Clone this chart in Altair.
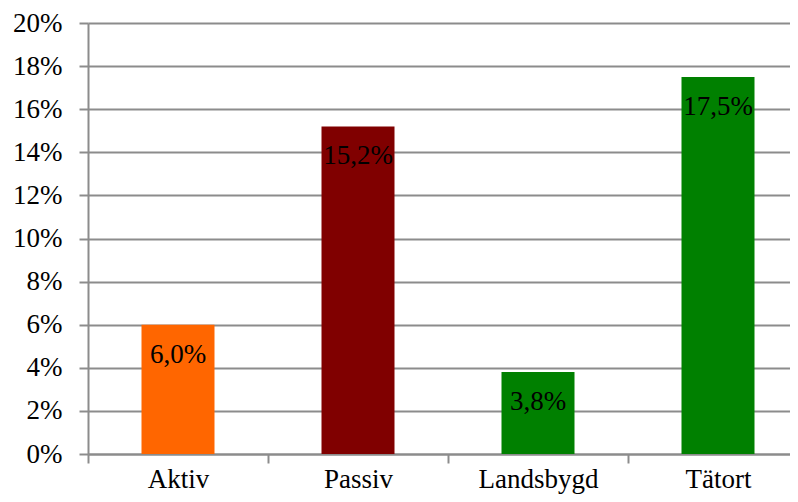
import json
import altair as alt
import pandas as pd

categories = ["Aktiv", "Passiv", "Landsbygd", "Tätort"]
values = [6.0, 15.2, 3.8, 17.5]
colors = ["#FF6600", "#800000", "#008000", "#008000"]
y_ticks = [0, 2, 4, 6, 8, 10, 12, 14, 16, 18, 20]

df = pd.DataFrame({
    "cat": categories,
    "pos": [i + 0.5 for i in range(len(categories))],
    "val": values,
    "col": colors,
    "txt": [f"{v:.1f}%".replace(".", ",") for v in values],
})

FONT = "Liberation Serif"
GRID = "#8c8c8c"
STEP = 180  # pixels per category slot
WIDTH = 702

x_values = [i * 0.5 for i in range(2 * len(categories) + 1)]
cat_js = json.dumps(categories)
label_expr = (f"datum.value % 1 == 0.5 ? {cat_js}[floor(datum.value)] : ''")

x = alt.X("pos:Q", title=None,
          scale=alt.Scale(domain=[0, WIDTH / STEP], nice=False, zero=False, padding=0),
          axis=alt.Axis(values=x_values, labelExpr=label_expr, labelAngle=0,
                        domainColor=GRID, domainWidth=2,
                        tickColor=GRID, tickWidth=2, tickSize=9,
                        tickOpacity={"condition": {"test": "datum.value % 1 == 0", "value": 1},
                                     "value": 0},
                        labelPadding=3, labelFlush=False, labelOverlap=False,
                        labelFont=FONT, labelFontSize=27, labelColor="#000000", grid=False))
y = alt.Y("val:Q", title=None,
          scale=alt.Scale(domain=[0, 20], nice=False, padding=0),
          axis=alt.Axis(values=y_ticks, labelExpr="datum.value + '%'", domainColor=GRID,
                        domainWidth=2, tickColor=GRID, tickWidth=2, tickSize=9,
                        labelPadding=17, labelFont=FONT, labelFontSize=27,
                        labelColor="#000000", gridColor=GRID, gridWidth=2, gridOpacity=1))

bars = alt.Chart(df).mark_bar(width=73).encode(
    x=x, y=y, color=alt.Color("col:N", scale=None)
)
text = alt.Chart(df).mark_text(baseline="middle", dy=30, font=FONT, fontSize=27,
                               color="#000000").encode(
    x="pos:Q", y="val:Q", text="txt:N"
)

chart = (bars + text).properties(
    width=WIDTH, height=431,
    autosize=alt.AutoSizeParams(type="none"),
    padding={"left": 80, "top": 15, "right": 0, "bottom": 40},
).configure_view(stroke=None)

chart.save("out.html", embed_options={"renderer": "svg", "actions": False})
